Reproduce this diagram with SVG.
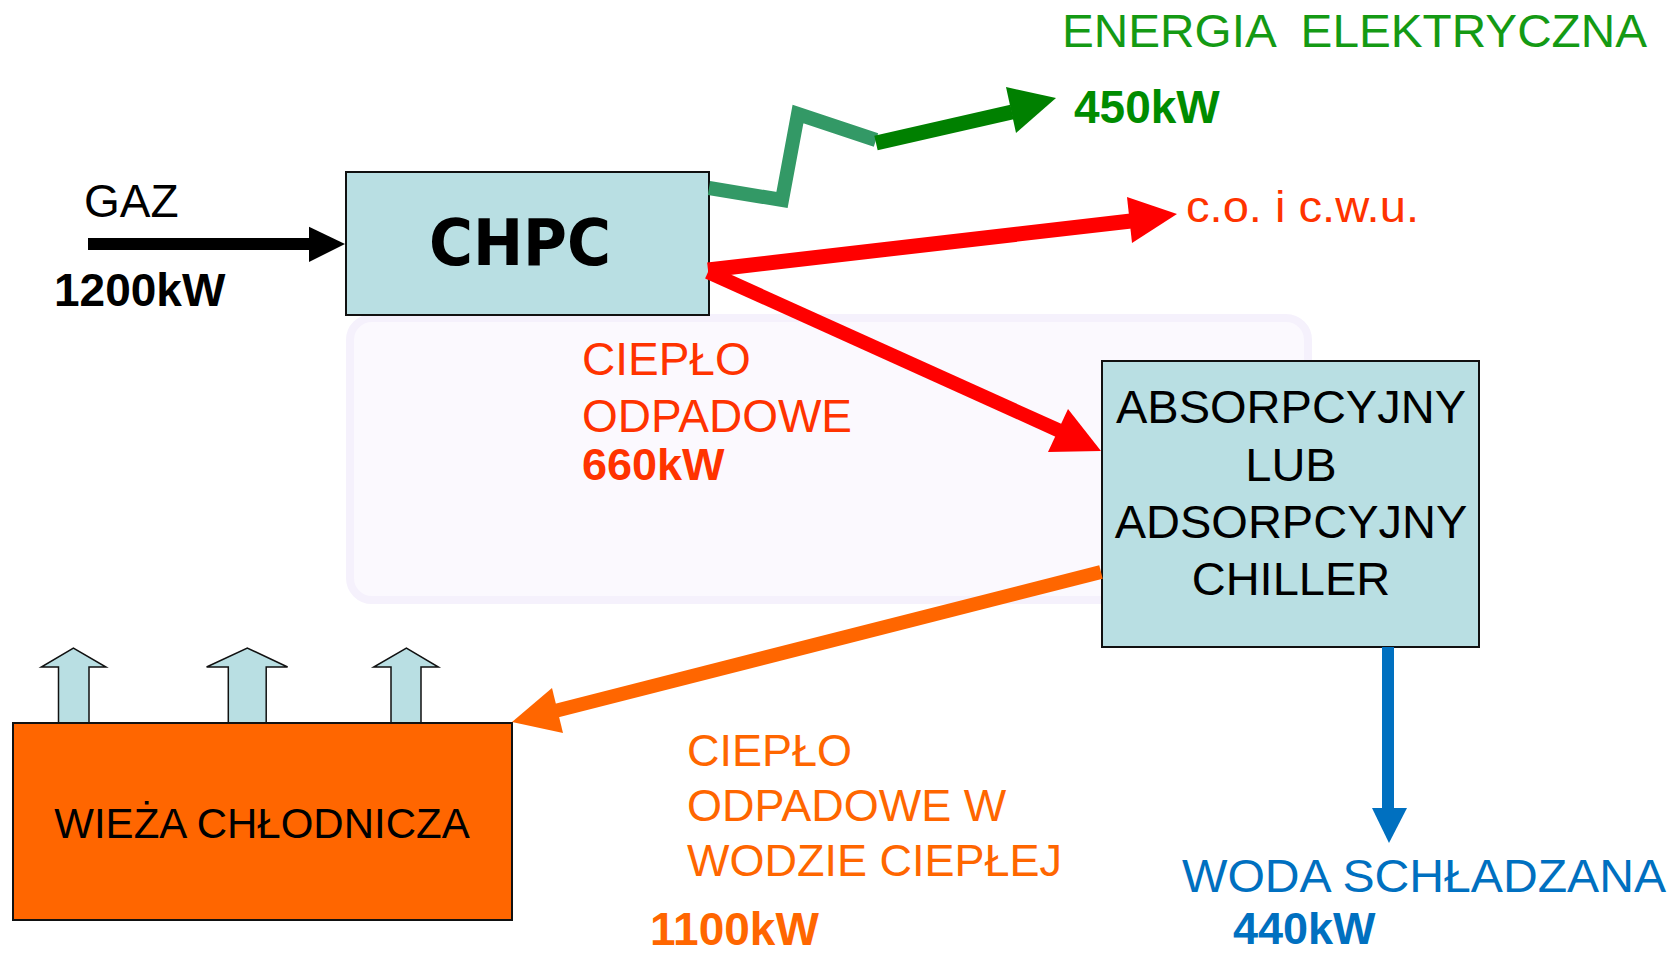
<svg xmlns="http://www.w3.org/2000/svg" width="1671" height="954" viewBox="0 0 1671 954">
<style>
.box{fill:#b9dfe3;stroke:#111;stroke-width:2}
.t{font-family:"Liberation Sans",Arial,sans-serif}
.b{font-weight:bold}
.sh{fill:none;stroke-linecap:butt}
.up{fill:#b9dfe3;stroke:#111;stroke-width:1.5;stroke-linejoin:miter}
</style>
<rect width="1671" height="954" fill="#ffffff"/>
<rect id="watermark" x="350" y="318" width="958" height="282" rx="22" fill="#fbf9fe" stroke="#f5f1fc" stroke-width="8"/>

<g id="chpc">
<rect class="box" x="346" y="172" width="363" height="143"/>
<text x="520" y="265" text-anchor="middle" font-family="'DejaVu Sans',sans-serif" font-weight="bold" font-size="64" textLength="182" lengthAdjust="spacingAndGlyphs" fill="#000">CHPC</text>
</g>

<g id="chiller">
<rect class="box" x="1102" y="361" width="377" height="286"/>
<g class="t" font-size="47" text-anchor="middle" fill="#000">
<text x="1291" y="423">ABSORPCYJNY</text>
<text x="1291" y="481">LUB</text>
<text x="1291" y="538">ADSORPCYJNY</text>
<text x="1291" y="595">CHILLER</text>
</g>
</g>

<g id="tower">
<polygon class="up" points="58.5,723 58.5,667 41.3,667 73.4,648 106,667 89,667 89,723"/>
<polygon class="up" points="228.3,723 228.3,667 206.6,667 247.3,648 287.6,667 266.2,667 266.2,723"/>
<polygon class="up" points="391,723 391,667 373.7,667 406.4,648 438.4,667 421,667 421,723"/>
<rect x="13" y="723" width="499" height="197" fill="#ff6600" stroke="#111" stroke-width="2"/>
<text class="t" x="262" y="838" text-anchor="middle" font-size="42" fill="#000">WIEŻA CHŁODNICZA</text>
</g>

<g id="connectors">
<line class="sh" x1="88" y1="244" x2="311" y2="244" stroke="#000" stroke-width="12"/>
<polygon points="309,226.7 345,244 309,262" fill="#000"/>
<polyline points="709,188 782,200 798,114 876,140" fill="none" stroke="#339966" stroke-width="14" stroke-linejoin="miter"/>
<line class="sh" x1="876" y1="143" x2="1012" y2="112" stroke="#008000" stroke-width="15"/>
<polygon points="1006,87 1056,98 1016,133" fill="#008000"/>
<line class="sh" x1="708" y1="270" x2="1131" y2="221" stroke="#ff0000" stroke-width="15"/>
<polygon points="1127,197 1177,214 1132,243" fill="#ff0000"/>
<line class="sh" x1="708" y1="272" x2="1060" y2="431" stroke="#ff0000" stroke-width="14"/>
<polygon points="1068,409 1101,451 1048,452" fill="#ff0000"/>
<line class="sh" x1="1101" y1="572" x2="555" y2="711" stroke="#ff6600" stroke-width="14"/>
<polygon points="552,688 512,722 563,733" fill="#ff6600"/>
<line class="sh" x1="1388" y1="647" x2="1388" y2="810" stroke="#0070c0" stroke-width="12"/>
<polygon points="1372,808 1389,843 1407,808" fill="#0070c0"/>
</g>

<g id="labels" class="t">
<text x="84" y="217" font-size="46" fill="#000">GAZ</text>
<text class="b" x="54" y="306" font-size="46" fill="#000">1200kW</text>
<text x="1062" y="47" font-size="46" fill="#149a14" xml:space="preserve" textLength="585" lengthAdjust="spacingAndGlyphs">ENERGIA  ELEKTRYCZNA</text>
<text class="b" x="1074" y="123" font-size="46" fill="#008c00">450kW</text>
<text x="1186" y="222" font-size="44" fill="#ff3300" textLength="233" lengthAdjust="spacingAndGlyphs">c.o. i c.w.u.</text>
<text x="582" y="375" font-size="46" fill="#ff3300">CIEPŁO</text>
<text x="582" y="432" font-size="46" fill="#ff3300">ODPADOWE</text>
<text class="b" x="582" y="480" font-size="45" fill="#ff3300">660kW</text>
<text x="687" y="766" font-size="45" fill="#ff6600">CIEPŁO</text>
<text x="687" y="821" font-size="45" fill="#ff6600">ODPADOWE W</text>
<text x="687" y="876" font-size="45" fill="#ff6600">WODZIE CIEPŁEJ</text>
<text class="b" x="650" y="945" font-size="46" fill="#ff6600">1100kW</text>
<text x="1182" y="892" font-size="47" fill="#0070c0" textLength="484" lengthAdjust="spacingAndGlyphs">WODA SCHŁADZANA</text>
<text class="b" x="1233" y="944" font-size="45" fill="#0070c0">440kW</text>
</g>
</svg>
